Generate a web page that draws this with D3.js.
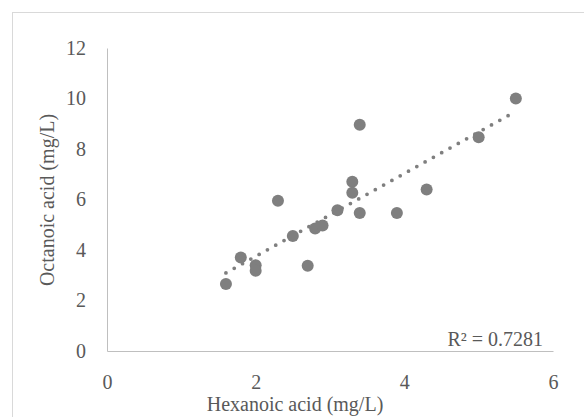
<!DOCTYPE html>
<html>
<head>
<meta charset="utf-8">
<script src="https://cdn.jsdelivr.net/npm/d3@7"></script>
<style>
    body { margin: 0; background: #fff; overflow: hidden; }
    svg text { font-family: "Liberation Serif", "DejaVu Serif", serif; fill: #595959; }
</style>
</head>
<body>
<script>
(function(){

    // values
    var hexanoic = [1.6, 1.8, 2.0, 2.0, 2.3, 2.5, 2.7, 2.8, 2.9, 3.1, 3.3, 3.3, 3.4, 3.4, 3.9, 4.3, 5.0, 5.5];
    var octanoic = [2.65, 3.7, 3.4, 3.18, 5.95, 4.55, 3.38, 4.85, 4.97, 5.57, 6.7, 6.27, 8.96, 5.47, 5.47, 6.4, 8.47, 10.0];
    var xTicks = [0, 2, 4, 6];
    var yTicks = [0, 2, 4, 6, 8, 10, 12];
    var rSquaredLabel = "R\u00b2 = 0.7281";

    window.onload = setChart;

    function setChart(){
        var width = 584,
            height = 417;

        var svg = d3.select("body")
            .append("svg")
            .attr("width", width)
            .attr("height", height);

        // chart border (runs off the right and bottom edge)
        svg.append("rect")
            .attr("x", 12.5)
            .attr("y", 12.5)
            .attr("width", 600)
            .attr("height", 420)
            .style("fill", "none")
            .style("stroke", "#d9d9d9");

        var xScale = d3.scaleLinear().domain([0, 6]).range([107, 553]);
        var yScale = d3.scaleLinear().domain([0, 12]).range([351, 48]);

        var data = hexanoic.map((x, i) => ({x: x, y: octanoic[i]}));

        // axes without tick marks
        var xAxis = svg.append("g")
            .attr("class", "axis x-axis")
            .attr("transform", `translate(0, ${yScale(0)})`)
            .call(d3.axisBottom(xScale).tickValues(xTicks).tickSize(0).tickPadding(24).tickFormat(d3.format("d")));

        var yAxis = svg.append("g")
            .attr("class", "axis y-axis")
            .attr("transform", `translate(${xScale(0)}, 0)`)
            .call(d3.axisLeft(yScale).tickValues(yTicks).tickSize(0).tickPadding(21).tickFormat(d3.format("d")));

        svg.selectAll(".axis text").style("font-size", "20px").style("fill", "#595959");
        xAxis.select(".domain").style("stroke", "#bfbfbf");
        yAxis.select(".domain").style("stroke", "#bfbfbf");

        // linear trendline (least squares)
        var mx = d3.mean(data, d => d.x),
            my = d3.mean(data, d => d.y);
        var slope = d3.sum(data, d => (d.x - mx) * (d.y - my)) / d3.sum(data, d => (d.x - mx) * (d.x - mx));
        var intercept = my - slope * mx;
        var xExt = d3.extent(data, d => d.x);

        svg.append("line")
            .attr("x1", xScale(xExt[0]))
            .attr("y1", yScale(intercept + slope * xExt[0]))
            .attr("x2", xScale(xExt[1]))
            .attr("y2", yScale(intercept + slope * xExt[1]))
            .style("stroke", "#7f7f7f")
            .style("stroke-width", 3.8)
            .style("stroke-linecap", "round")
            .style("stroke-dasharray", "0,9.5");

        svg.selectAll(".dot")
            .data(data)
            .enter()
            .append("circle")
            .attr("class", "dot")
            .attr("cx", d => xScale(d.x))
            .attr("cy", d => yScale(d.y))
            .attr("r", 6)
            .style("fill", "#7f7f7f");

        svg.append("text")
            .attr("x", 543)
            .attr("y", 346)
            .style("text-anchor", "end")
            .style("font-size", "20px")
            .text(rSquaredLabel);

        svg.append("text")
            .attr("x", 295)
            .attr("y", 411)
            .style("text-anchor", "middle")
            .style("font-size", "20px")
            .text("Hexanoic acid (mg/L)");

        svg.append("text")
            .attr("transform", "translate(54, 200) rotate(-90)")
            .style("text-anchor", "middle")
            .style("font-size", "20px")
            .text("Octanoic acid (mg/L)");
    }

})();
</script>
</body>
</html>
